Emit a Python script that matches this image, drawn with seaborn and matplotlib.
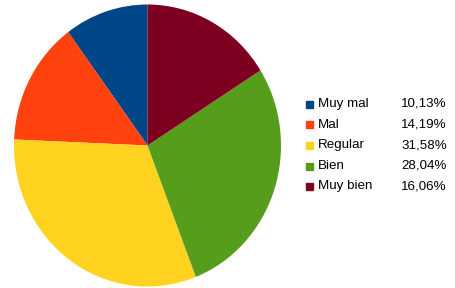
import matplotlib
matplotlib.use("Agg")
import matplotlib.pyplot as plt
import matplotlib.patches as mpatches
import seaborn as sns

categories = ["Muy mal", "Mal", "Regular", "Bien", "Muy bien"]
percentages = [10.13, 14.19, 31.58, 28.04, 16.06]
colors = ["#004586", "#ff420e", "#ffd320", "#579d1c", "#7e0021"]

sns.set_theme(style="white")
plt.rcParams["font.family"] = ["Liberation Sans", "DejaVu Sans"]

W, H = 456, 288
fig = plt.figure(figsize=(W / 100, H / 100), dpi=100)

# pie area (slightly elliptical, like the original)
ax = fig.add_axes([14 / W, (H - 286.5) / H, 267 / W, 282 / H])
ax.pie(percentages, colors=colors, startangle=90, counterclock=True,
       wedgeprops=dict(linewidth=0))
ax.set_aspect("auto")
ax.set_xlim(-1, 1)
ax.axis("off")
ax.set_ylim(-1, 1)

# legend
row_y = [104, 124.5, 145, 166, 186.5]
for i, (cat, pct, col) in enumerate(zip(categories, percentages, colors)):
    y = row_y[i]
    fig.patches.append(mpatches.Rectangle((306.5 / W, (H - y - 3.5) / H), 7 / W, 7 / H,
                                          transform=fig.transFigure, color=col))
    fig.text(318 / W, (H - y) / H, cat, fontsize=9.6, va="center", ha="left", color="#000000")
    fig.text(447 / W, (H - y) / H, f"{pct:.2f}%".replace(".", ","), fontsize=9.6,
             va="center", ha="right", color="#000000")

fig.savefig("out.png", dpi=100, facecolor="white")
